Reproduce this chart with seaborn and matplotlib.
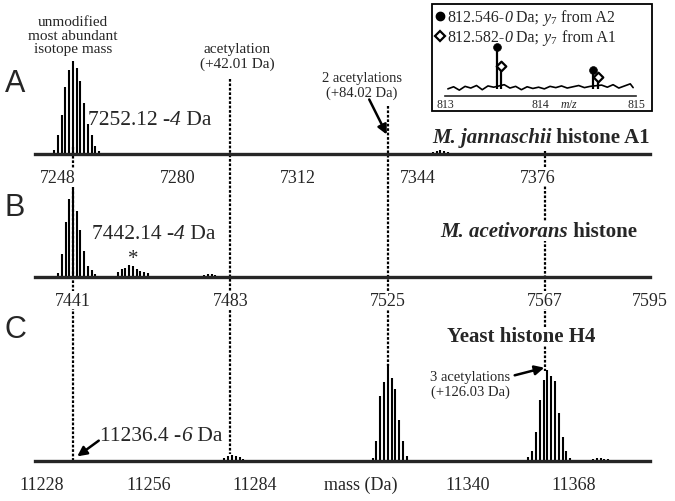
import matplotlib
matplotlib.use('Agg')
import matplotlib.pyplot as plt
import matplotlib.patches as patches
from matplotlib.lines import Line2D
import seaborn as sns

W, H = 675, 502

# ---- panel A : M. jannaschii histone A1 ----
a_mass = [7247, 7248, 7249, 7250, 7251, 7252, 7253, 7254, 7255, 7256, 7257, 7258, 7259,
          7348, 7349, 7350, 7351, 7352]
a_int = [0.04, 0.20, 0.42, 0.72, 0.90, 1.00, 0.93, 0.78, 0.55, 0.32, 0.20, 0.09, 0.03,
         0.02, 0.03, 0.04, 0.03, 0.02]
a_major = [7248, 7280, 7312, 7344, 7376]
a_minor = [7264, 7296, 7328, 7360, 7392]
a_labels = ['7248', '7280', '7312', '7344', '7376']

# ---- panel B : M. acetivorans histone ----
b_mass = [7437, 7438, 7439, 7440, 7441, 7442, 7443, 7444, 7445, 7446, 7447,
          7453, 7454, 7455, 7456, 7457, 7458, 7459, 7460, 7461,
          7476, 7477, 7478, 7479]
b_int = [0.04, 0.26, 0.62, 0.89, 1.00, 0.75, 0.53, 0.30, 0.13, 0.08, 0.03,
         0.06, 0.09, 0.10, 0.14, 0.12, 0.09, 0.07, 0.06, 0.04,
         0.02, 0.03, 0.03, 0.02]
b_major = [7441, 7483, 7525, 7567, 7595]
b_minor = [7455, 7469, 7497, 7511, 7539, 7553, 7581]
b_labels = ['7441', '7483', '7525', '7567', '7595']

# ---- panel C : yeast histone H4 ----
c_mass = [11276, 11277, 11278, 11279, 11280, 11281,
          11315, 11316, 11317, 11318, 11319, 11320, 11321, 11322, 11323, 11324,
          11356, 11357, 11358, 11359, 11360, 11361, 11362, 11363, 11364, 11365, 11366, 11367,
          11373, 11374, 11375, 11376, 11377]
c_int = [0.03, 0.05, 0.06, 0.05, 0.04, 0.02,
         0.03, 0.21, 0.67, 0.81, 1.00, 0.86, 0.74, 0.42, 0.21, 0.05,
         0.04, 0.10, 0.30, 0.63, 0.84, 0.94, 0.88, 0.82, 0.49, 0.25, 0.10, 0.03,
         0.02, 0.03, 0.03, 0.02, 0.02]
c_major = [11228, 11256, 11284, 11312, 11340, 11368]
c_minor = [11242, 11270, 11298, 11326, 11354, 11382]
c_labels = ['11228', '11256', '11284', 'mass (Da)', '11340', '11368']

# reference masses (panel A scale): unmodified, +1, +2, +3 acetyl
ref_mass = [7252, 7294, 7336, 7378]
ref_top = [148, 80, 107, 152]
ref_bot = [462, 455, 367, 372]

# ---- inset: y7 fragment ----
a2_mz = [813.548, 814.552]
a2_int = [1.00, 0.45]
a1_mz = [813.585, 814.600]
a1_int = [0.55, 0.28]
noise_mz = [813.03, 813.09, 813.15, 813.21, 813.27, 813.33, 813.39, 813.45, 813.51, 813.62,
            813.68, 813.74, 813.80, 813.86, 813.92, 813.98, 814.04, 814.10, 814.16, 814.22,
            814.28, 814.34, 814.40, 814.46, 814.52, 814.64, 814.70, 814.76, 814.82, 814.88,
            814.94, 814.97]
noise_int = [0.00, 0.05, -0.03, 0.06, 0.02, 0.08, -0.02, 0.07, 0.04, 0.10,
             0.02, 0.06, -0.02, 0.05, 0.01, 0.04, 0.00, 0.06, 0.03, 0.07,
             0.02, 0.05, 0.08, 0.03, 0.06, 0.09, 0.04, 0.10, 0.02, 0.07,
             0.12, 0.03]

sns.set_style('white')
plt.rcParams['font.family'] = ['Liberation Serif', 'DejaVu Serif']
plt.rcParams['mathtext.fontset'] = 'custom'
plt.rcParams['mathtext.rm'] = 'Liberation Serif'
plt.rcParams['mathtext.it'] = 'Liberation Serif:italic'
plt.rcParams['mathtext.bf'] = 'Liberation Serif:bold'

fig = plt.figure(figsize=(W / 100, H / 100), dpi=100)
renderer = fig.canvas.get_renderer()


def fx(x):
    return x / W


def fy(y):
    return 1 - y / H


def ftext(x, y, s, **kw):
    return fig.text(fx(x), fy(y), s, **kw)


def rich(x, y, parts, size, ha='left', bg=False):
    # parts: list of (text, style, weight); y is the baseline in px
    texts = []
    widths = []
    for s, style, weight in parts:
        t = ftext(0, y, s, fontsize=size, fontstyle=style, fontweight=weight,
                  va='baseline', ha='left')
        texts.append(t)
        widths.append(t.get_window_extent(renderer).width)
    x0 = x - sum(widths) if ha == 'right' else x
    if bg:
        fig.add_artist(patches.Rectangle((fx(x0 - 2), fy(y + 5)), (sum(widths) + 4) / W,
                                         size * 1.25 / H, transform=fig.transFigure,
                                         facecolor='white', edgecolor='none', zorder=2))
    for t, w in zip(texts, widths):
        t.set_x(fx(x0))
        x0 += w


def span(anchor_px, anchor_m, ppd, left=35, right=650):
    return (anchor_m + (left - anchor_px) / ppd, anchor_m + (right - anchor_px) / ppd)


# overlay for the dotted reference lines (panel A mass scale over the full width)
ov = fig.add_axes([0, 0, 1, 1], zorder=-1)
ov.set_xlim(*span(58, 7248, 3.75, 0, W))
ov.set_ylim(H, 0)
ov.axis('off')
ov.vlines(ref_mass, ref_top, ref_bot, colors='k', linestyles=(0, (1.2, 0.8)), lw=1.6)


def panel(base, top, lims, mass, inten, major, minor, labels):
    ax = fig.add_axes([fx(35), fy(base), fx(650) - fx(35), (base - top) / H])
    ax.set_facecolor('none')
    ax.vlines(mass, 0, inten, colors='k', lw=1.5)
    ax.set_xlim(*lims)
    ax.set_ylim(0, 1)
    for s in ['top', 'right', 'left']:
        ax.spines[s].set_visible(False)
    ax.spines['bottom'].set_linewidth(2.4)
    ax.set_yticks([])
    ax.set_xticks(major)
    ax.set_xticks(minor, minor=True)
    ax.set_xticklabels(labels, fontsize=13)
    ax.tick_params(axis='x', which='major', direction='out', length=8, width=1.3, pad=2.5)
    ax.tick_params(axis='x', which='minor', direction='out', length=3.5, width=1.3)
    for t in ax.get_xticklabels():
        t.set_bbox(dict(facecolor='white', edgecolor='none', pad=0.6))
    return ax


axA = panel(155, 62, span(58, 7248, 3.75), a_mass, a_int, a_major, a_minor, a_labels)
axB = panel(278, 190, span(73, 7441, 3.747), b_mass, b_int, b_major, b_minor, b_labels)
axC = panel(462, 365, span(42, 11228, 3.8), c_mass, c_int, c_major, c_minor, c_labels)

# panel letters
for lab, y in zip(['A', 'B', 'C'], [84, 208, 330]):
    ftext(15, y, lab, fontsize=22, family='Liberation Sans', ha='center', va='center')

# panel A annotations
ftext(73, 36, 'unmodified\nmost abundant\nisotope mass', fontsize=11, ha='center',
      va='center', linespacing=1.05)
ftext(237, 57, 'acetylation\n(+42.01 Da)', fontsize=11, ha='center', va='center',
      linespacing=1.1)
ftext(362, 86, '2 acetylations\n(+84.02 Da)', fontsize=10.5, ha='center', va='center',
      linespacing=1.1)
fig.add_artist(patches.FancyArrowPatch((fx(368), fy(98)), (fx(388), fy(138)),
                                       transform=fig.transFigure, arrowstyle='-|>',
                                       mutation_scale=14, lw=1.8, color='k'))
rich(88, 125, [('7252.12 -', 'normal', 'normal'), ('4', 'italic', 'normal'),
               (' Da', 'normal', 'normal')], 15.5)
rich(650, 143, [('M. jannaschii', 'italic', 'bold'), (' histone A1', 'normal', 'bold')],
     15, ha='right')

# panel B annotations
rich(92, 239, [('7442.14 -', 'normal', 'normal'), ('4', 'italic', 'normal'),
               (' Da', 'normal', 'normal')], 15.5)
ftext(133, 260, '*', fontsize=15, ha='center', va='center')
rich(637, 237, [('M. acetivorans', 'italic', 'bold'), (' histone', 'normal', 'bold')],
     15, ha='right', bg=True)

# panel C annotations
rich(595, 342, [('Yeast histone H4', 'normal', 'bold')], 15, ha='right', bg=True)
ftext(470, 385, '3 acetylations\n(+126.03 Da)', fontsize=10.5, ha='center', va='center',
      linespacing=1.15)
fig.add_artist(patches.FancyArrowPatch((fx(512), fy(377)), (fx(547), fy(368)),
                                       transform=fig.transFigure, arrowstyle='-|>',
                                       mutation_scale=14, lw=1.8, color='k'))
rich(100, 441, [('11236.4 -', 'normal', 'normal'), ('6', 'italic', 'normal'),
                (' Da', 'normal', 'normal')], 15.5)
fig.add_artist(patches.FancyArrowPatch((fx(101), fy(440)), (fx(75), fy(459)),
                                       transform=fig.transFigure, arrowstyle='-|>',
                                       mutation_scale=14, lw=1.8, color='k'))

# inset
fig.add_artist(patches.Rectangle((fx(432), fy(112)), (652 - 432) / W, (112 - 5) / H,
                                 transform=fig.transFigure, fill=False, lw=1.3,
                                 edgecolor='k'))
ins = fig.add_axes([fx(445), fy(97), (636 - 445) / W, (97 - 40) / H])
ins.set_facecolor('none')
sns.lineplot(x=noise_mz, y=noise_int, ax=ins, color='k', lw=1.2)
ins.vlines(a2_mz, 0, a2_int, colors='k', lw=1.6)
ins.vlines(a1_mz, 0, a1_int, colors='k', lw=1.6)
sns.scatterplot(x=a2_mz, y=a2_int, ax=ins, marker='o', color='k', s=32, zorder=3,
                edgecolor='k')
sns.scatterplot(x=a1_mz, y=a1_int, ax=ins, marker='D', facecolor='white', s=24, zorder=3,
                edgecolor='k', linewidth=1.6)
ins.set_xlim(813, 815)
ins.set_ylim(-0.17, 1.19)
for s in ['top', 'right', 'left']:
    ins.spines[s].set_visible(False)
ins.spines['bottom'].set_linewidth(1.2)
ins.set_yticks([])
ins.set_xticks([813, 814, 815])
ins.set_xticklabels([])
ins.set_xticks([813.5, 814.5], minor=True)
ins.tick_params(axis='x', which='major', direction='out', length=10.5, width=1.1)
ins.tick_params(axis='x', which='minor', direction='out', length=2.5, width=1.1)
for m, lab in zip([813, 814, 815], ['813', '814', '815']):
    ins.text(m, -0.36, lab, fontsize=8.5, ha='center', va='center', clip_on=False)
ins.text(814.3, -0.36, '$m/z$', fontsize=8.5, ha='center', va='center', clip_on=False)
ins.set_xlabel('')
ins.set_ylabel('')

fig.add_artist(Line2D([fx(440)], [fy(17)], marker='o', color='k', ms=6,
                      transform=fig.transFigure))
fig.add_artist(Line2D([fx(440)], [fy(37)], marker='D', mfc='white', mec='k', mew=1.6,
                      ms=5, transform=fig.transFigure))
rich(447, 22, [('812.546-', 'normal', 'normal'), ('0', 'italic', 'normal'),
               (' Da;', 'normal', 'normal'), (r' $\mathit{y}_7$', 'normal', 'normal'),
               (' from A2', 'normal', 'normal')], 11.5)
rich(447, 42, [('812.582-', 'normal', 'normal'), ('0', 'italic', 'normal'),
               (' Da;', 'normal', 'normal'), (r' $\mathit{y}_7$', 'normal', 'normal'),
               (' from A1', 'normal', 'normal')], 11.5)

fig.savefig('out.png', dpi=100)
